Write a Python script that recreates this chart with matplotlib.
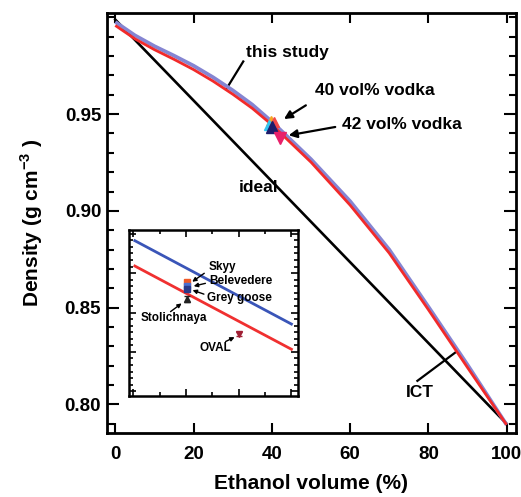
import matplotlib
matplotlib.use("Agg")
import matplotlib.pyplot as plt
from matplotlib.ticker import MultipleLocator

plt.rcParams['font.family'] = ['Liberation Sans', 'DejaVu Sans']
plt.rcParams['font.weight'] = 'bold'
plt.rcParams['mathtext.fontset'] = 'custom'
plt.rcParams['mathtext.rm'] = 'Liberation Sans:bold'
plt.rcParams['mathtext.bf'] = 'Liberation Sans:bold'

# ---- main data ----
vol = [0, 5, 10, 15, 20, 25, 30, 35, 40, 50, 60, 70, 80, 90, 100]
dens_ict = [0.9958, 0.9889, 0.9833, 0.9783, 0.9730, 0.9670, 0.9603, 0.9530, 0.9445,
            0.9252, 0.9030, 0.8782, 0.8490, 0.8191, 0.7895]
dens_study = [0.9976, 0.9907, 0.9851, 0.9802, 0.9750, 0.9690, 0.9623, 0.9549, 0.9461,
              0.9267, 0.9050, 0.8800, 0.8505, 0.8205, 0.7895]
ideal_x = [0, 100]
ideal_y = [0.9988, 0.7900]

vodka40_x = [39.8, 39.3, 40.5]
vodka40_y = [0.9462, 0.9445, 0.9458]
vodka40_colors = ['#f5a623', '#33c3f0', '#f04848']
main40_x, main40_y = 40.0, 0.9436
vodka42_x, vodka42_y = 42.0, 0.9376

# ---- inset data ----
in_line_x = [38.06, 44.0]
in_study_y = [0.94747, 0.94112]
in_ict_y = [0.94554, 0.93920]
brand_names = ['Skyy', 'Belevedere', 'Grey goose', 'Stolichnaya', 'OVAL']
brand_x = [40.05, 40.05, 40.05, 40.05, 42.0]
brand_y = [0.94435, 0.94402, 0.94379, 0.94303, 0.94036]
brand_err = [0.00012, 0.00008, 0.00008, 0.00020, 0.00018]
brand_colors = ['#f05a28', '#4a6fd0', '#2a3a8a', '#222222', '#a02035']
brand_markers = ['s', 's', 's', '^', 'v']

fig = plt.figure(figsize=(5.21, 4.97), dpi=100)
ax = fig.add_axes([0.2048, 0.1278, 0.7856, 0.8455])

ax.plot(ideal_x, ideal_y, color='black', lw=1.9, zorder=2)
ax.plot(vol, dens_study, color='#8585d2', lw=2.7, zorder=3, solid_capstyle='butt')
ax.plot(vol, dens_ict, color='#f22a2a', lw=2.0, zorder=4, solid_capstyle='butt')

for xx, yy, cc in zip(vodka40_x, vodka40_y, vodka40_colors):
    ax.plot(xx, yy, marker='^', color=cc, ms=7, ls='none', zorder=5)
ax.plot(main40_x, main40_y, marker='^', color='#1c1c6a', ms=9, ls='none', zorder=6)
ax.plot(vodka42_x, vodka42_y, marker='v', color='#e8206a', ms=9, ls='none', zorder=6)

tkw = dict(fontsize=12.5, fontweight='bold')
ax.text(44.1, 0.9817, 'this study', ha='center', va='center', **tkw)
ax.plot([32.7, 28.5], [0.9772, 0.9634], color='black', lw=1.6)
ax.text(51.0, 0.9620, '40 vol% vodka', ha='left', va='center', **tkw)
ax.annotate('', xy=(42.5, 0.9467), xytext=(49.3, 0.9553),
            arrowprops=dict(arrowstyle='-|>', color='black', lw=1.6, mutation_scale=12))
ax.text(57.85, 0.9445, '42 vol% vodka', ha='left', va='center', **tkw)
ax.annotate('', xy=(43.6, 0.9388), xytext=(56.9, 0.9436),
            arrowprops=dict(arrowstyle='-|>', color='black', lw=1.6, mutation_scale=12))
ax.text(36.7, 0.9119, 'ideal', ha='center', va='center', **tkw)
ax.text(77.9, 0.8064, 'ICT', ha='center', va='center', **tkw)
ax.plot([77.2, 87.2], [0.8122, 0.8273], color='black', lw=1.6)

ax.set_xlim(-2.2, 102.4)
ax.set_ylim(0.785, 1.0021)
ax.set_xticks([0, 20, 40, 60, 80, 100])
ax.set_yticks([0.80, 0.85, 0.90, 0.95])
ax.yaxis.set_minor_locator(MultipleLocator(0.01))
ax.set_yticklabels(['0.80', '0.85', '0.90', '0.95'])
ax.tick_params(which='both', direction='in', top=True, right=True, width=1.5)
ax.tick_params(axis='y', which='major', length=8.5, pad=4, labelsize=13.5)
ax.tick_params(axis='y', which='minor', length=4.8)
ax.tick_params(axis='x', which='major', length=7.5, pad=9, labelsize=13.5)
for lab in ax.get_xticklabels() + ax.get_yticklabels():
    lab.set_fontweight('bold')
for s in ax.spines.values():
    s.set_linewidth(2.0)
ax.set_xlabel('Ethanol volume (%)', fontsize=15, fontweight='bold', labelpad=8)
ax.set_ylabel(r'Density (g cm$^{-3}$ )', fontsize=15, fontweight='bold', labelpad=14)

# ---- inset ----
ins = fig.add_axes([0.2482, 0.2032, 0.3238, 0.3334])
ins.plot(in_line_x, in_study_y, color='#3a55b8', lw=2.0)
ins.plot(in_line_x, in_ict_y, color='#f03030', lw=2.0)
for bx, by, be, bc, bm in zip(brand_x, brand_y, brand_err, brand_colors, brand_markers):
    ins.errorbar(bx, by, yerr=be, fmt=bm, color=bc, ms=4, capsize=2, elinewidth=1, zorder=5)

ikw = dict(fontsize=8.5, fontweight='bold', va='center', ha='left')
ins.text(40.84, 0.94549, brand_names[0], **ikw)
ins.text(40.88, 0.94440, brand_names[1], **ikw)
ins.text(40.80, 0.94308, brand_names[2], **ikw)
ins.text(38.28, 0.94156, brand_names[3], **ikw)
ins.text(40.50, 0.93932, brand_names[4], **ikw)
ap = dict(arrowstyle='-|>', color='black', lw=1.0, mutation_scale=6)
ins.annotate('', xy=(40.15, 0.94422), xytext=(40.78, 0.94511), arrowprops=ap)
ins.annotate('', xy=(40.19, 0.94396), xytext=(40.84, 0.94427), arrowprops=ap)
ins.annotate('', xy=(40.15, 0.94377), xytext=(40.78, 0.94333), arrowprops=ap)
ins.annotate('', xy=(39.92, 0.94282), xytext=(39.33, 0.94194), arrowprops=ap)
ins.annotate('', xy=(41.94, 0.94021), xytext=(41.41, 0.93970), arrowprops=ap)

ins.set_xlim(37.85, 44.25)
ins.set_ylim(0.93564, 0.94826)
ins.xaxis.set_major_locator(MultipleLocator(2))
ins.xaxis.set_minor_locator(MultipleLocator(1))
ins.yaxis.set_major_locator(MultipleLocator(0.003))
ins.yaxis.set_minor_locator(MultipleLocator(0.0005))
ins.tick_params(which='both', direction='in', top=True, right=True, width=1.2,
                labelbottom=False, labelleft=False)
ins.tick_params(which='major', length=5)
ins.tick_params(which='minor', length=3)
for s in ins.spines.values():
    s.set_linewidth(1.8)

fig.savefig('out.png', dpi=100)
